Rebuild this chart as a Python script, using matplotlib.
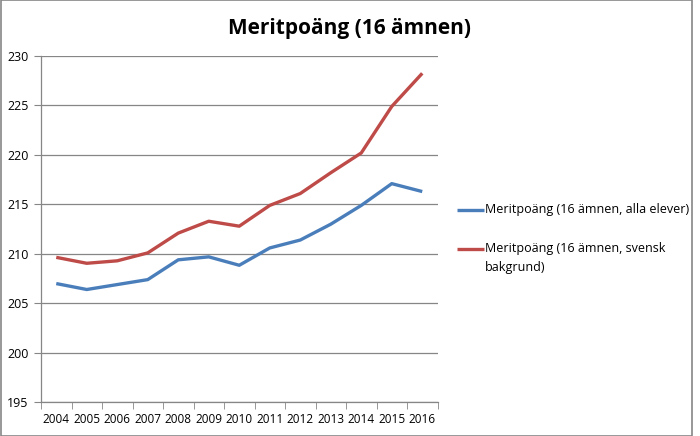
import matplotlib
matplotlib.use("Agg")
import matplotlib.pyplot as plt
from matplotlib.patches import Rectangle
from matplotlib.lines import Line2D

years = ["2004", "2005", "2006", "2007", "2008", "2009", "2010",
         "2011", "2012", "2013", "2014", "2015", "2016"]
alla_elever = [207.0, 206.4, 206.9, 207.4, 209.4, 209.7, 208.85,
               210.6, 211.4, 213.0, 214.9, 217.1, 216.3]
svensk_bakgrund = [209.65, 209.05, 209.3, 210.1, 212.1, 213.3, 212.8,
                   214.9, 216.1, 218.2, 220.2, 224.9, 228.25]
label_alla = "Meritpoäng (16 ämnen, alla elever)"
label_svensk = "Meritpoäng (16 ämnen, svensk\nbakgrund)"
title = "Meritpoäng (16 ämnen)"

plt.rcParams['font.family'] = ['Open Sans', 'DejaVu Sans']

fig = plt.figure(figsize=(7.0, 4.36), dpi=100)
ax = fig.add_axes([41/700, 1-402.3/436, (437.5-41)/700, (402.3-56)/436])

blue, red = "#4A7EBB", "#BE4B48"
x = list(range(len(years)))
ax.plot(x, alla_elever, color=blue, lw=2.4, solid_capstyle="butt")
ax.plot(x, svensk_bakgrund, color=red, lw=2.4, solid_capstyle="butt")

ax.set_xlim(-0.5, len(years)-0.5)
ax.set_ylim(195, 230)
ax.set_yticks(range(195, 231, 5))
ax.set_xticks(x)
ax.set_xticklabels(years, fontsize=8.5)
ax.tick_params(axis='x', length=0, pad=8)
ax.set_xticks([i - 0.5 for i in range(len(years)+1)], minor=True)
ax.tick_params(axis='x', which='minor', length=5, color="#868686", direction='out')
ax.tick_params(axis='y', length=5, color="#868686", labelsize=9, pad=4)
ax.grid(axis='y', color="#868686", lw=0.9)
ax.set_axisbelow(True)
for s in ["top", "right"]:
    ax.spines[s].set_visible(False)
for s in ["left", "bottom"]:
    ax.spines[s].set_color("#868686")
    ax.spines[s].set_linewidth(0.9)

fig.text(349/700, 1-28/436, title, ha="center", va="center", fontsize=15, fontweight="bold")

# legend (drawn manually so the handle aligns with the first text line)
for yy, col, lab in [(210, blue, label_alla), (249, red, label_svensk)]:
    fig.add_artist(Line2D([457/700, 484/700], [1-yy/436, 1-yy/436],
                          transform=fig.transFigure, color=col, lw=2.4,
                          solid_capstyle="butt"))
    fig.text(485/700, 1-(yy-7)/436, lab, ha="left", va="top", fontsize=9,
             linespacing=1.55)

fig.patches.append(Rectangle((0.5/700, 1-435.5/436), 691/700, 435/436,
                             transform=fig.transFigure, fill=False,
                             edgecolor="#868686", lw=1.2))

fig.savefig("out.png", dpi=100)
